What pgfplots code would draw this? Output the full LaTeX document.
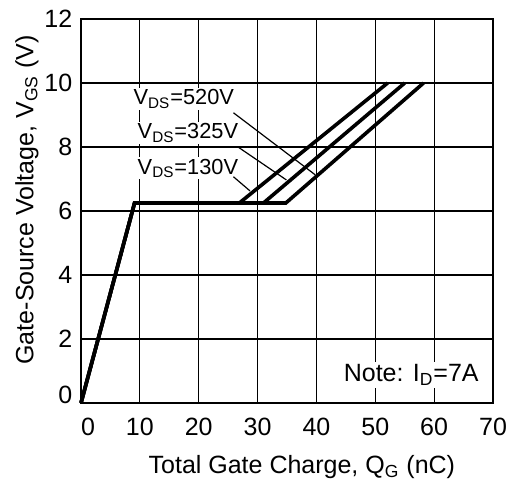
\documentclass[border=0pt]{standalone}
\usepackage{fontspec}
\setmainfont{Liberation Sans}
\usepackage{pgfplots}
\pgfplotsset{compat=1.18}
\newcommand{\sub}[1]{\textsubscript{#1}}
\begin{document}
\fontsize{12.5}{15}\selectfont
\begin{tikzpicture}
\begin{axis}[
  scale only axis, width=206pt, height=192pt,
  xmin=0, xmax=70, ymin=0, ymax=12,
  xtick={0,10,...,70}, ytick={0,2,...,12},
  xticklabels={\hspace*{7pt}0,10,20,30,40,50,60,70},
  yticklabels={\raisebox{8pt}{0},2,4,6,8,10,12},
  major tick length=0pt,
  grid=major, grid style={black, line width=0.6pt},
  axis line style={black, line width=1.3pt},
  tick label style={font=\fontsize{12.5}{15}\selectfont},
  xticklabel style={yshift=-3pt},
  xlabel={Total Gate Charge, Q\sub{G} (nC)},
  ylabel={Gate-Source Voltage, V\sub{GS} (V)},
  xlabel style={at={(axis description cs:0.536,0)}, anchor=center, yshift=-32pt},
  ylabel style={at={(axis description cs:0,0.529)}, anchor=center, yshift=27pt},
  clip=false,
  cycle list={{black, solid, no markers}},
]
\coordinate (sw) at (rel axis cs:0,0);
\coordinate (ne) at (rel axis cs:1,1);
% curve labels
\tikzset{vlab/.style={anchor=west, fill=white, inner sep=0.8pt, font=\fontsize{10.9}{13}\selectfont}}
\node[vlab] at (axis cs:8.6,9.5) {V\sub{DS}=520V};
\node[vlab] at (axis cs:9.3,8.44) {V\sub{DS}=325V};
\node[vlab] at (axis cs:9.3,7.34) {V\sub{DS}=130V};
\node[fill=white, inner sep=1.5pt] at (axis cs:56.1,0.875) {Note: I\sub{D}=7A};
% leader lines
\addplot[black, no markers, line width=0.6pt] coordinates {(25.9,9.07) (39.8,7.13)};
\addplot[black, no markers, line width=0.6pt] coordinates {(26.6,8.01) (34.9,6.97)};
\addplot[black, no markers, line width=0.6pt] coordinates {(25.9,7.07) (28.7,6.63)};
% gate charge curves
\addplot[black, no markers, line width=1.8pt, line join=miter] coordinates {(0,0) (9.1,6.25) (26.9,6.25) (52.1,10)};
\addplot[black, no markers, line width=1.8pt, line join=miter] coordinates {(0,0) (9.1,6.25) (31.0,6.25) (55.0,10)};
\addplot[black, no markers, line width=1.8pt, line join=miter] coordinates {(0,0) (9.1,6.25) (34.8,6.25) (58.2,10)};
\end{axis}
\path ([shift={(-40.5pt,-41.5pt)}]sw) rectangle ([shift={(14pt,9.5pt)}]ne);
\end{tikzpicture}
\end{document}
